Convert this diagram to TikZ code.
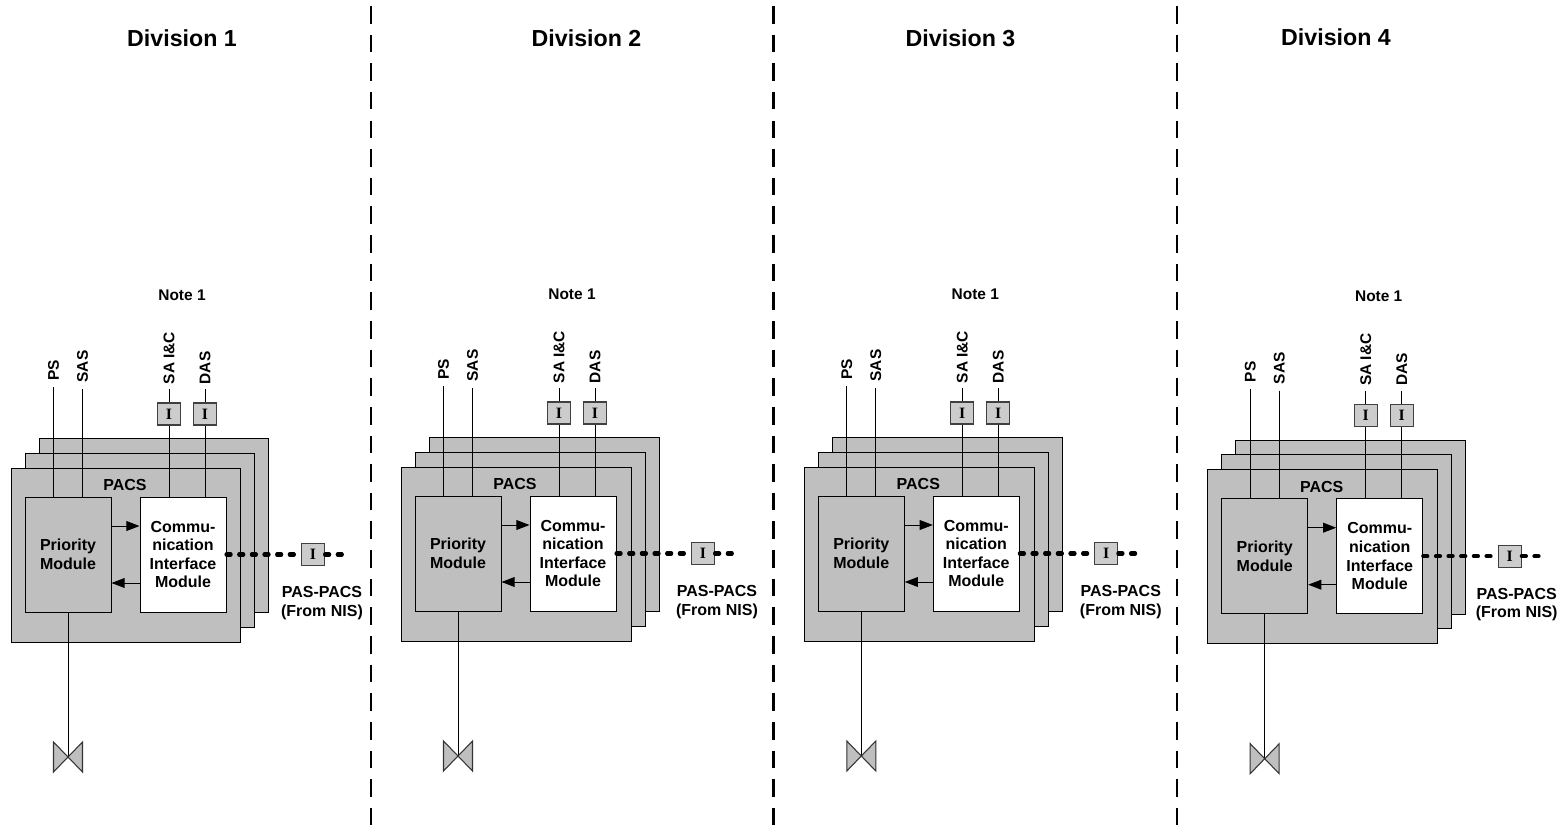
\documentclass[tikz,border=0pt]{standalone}
\usepackage{fontspec}
\setmainfont{Liberation Sans}
\newfontfamily\boxfont{Liberation Serif}
\usetikzlibrary{arrows.meta}

\begin{document}
\begin{tikzpicture}[
        x=0.02cm, y=-0.02cm,
        plate/.style={
        rectangle, draw=black, line width=0.55pt,
        inner sep=0pt, minimum width=4.6cm, minimum height=3.48cm,
        fill=plategray},
        module/.style={
        rectangle, draw=black, line width=0.55pt,
        inner sep=0pt, minimum width=1.72cm, minimum height=2.3cm,
        align=center, font=\fontsize{9.1}{10.6}\selectfont\bfseries},
        isobox/.style={
        rectangle, draw=black!75, line width=0.6pt,
        inner sep=0pt, minimum width=0.46cm, minimum height=0.44cm,
        fill=boxgray, font=\fontsize{9}{10}\selectfont\boxfont\bfseries},
        txt/.style={
        inner sep=0pt, align=center,
        font=\fontsize{9.1}{10.4}\selectfont\bfseries},
        signal/.style={
        rotate=90, anchor=west, inner sep=2.5pt,
        font=\fontsize{8.8}{10}\selectfont\bfseries},
        wire/.style={draw=black, line width=0.55pt},
        flow/.style={wire, -{Triangle[length=7.5pt,width=5.6pt]}},
        datalink/.style={draw=black, line width=2.3pt, line cap=round,
        dash pattern=on 2.4pt off 4.8pt},
        divider/.style={draw=black, line width=1.6pt,
        dash pattern=on 10pt off 6.3pt},
        ]
        \definecolor{plategray}{HTML}{BFBFBF}
        \definecolor{boxgray}{HTML}{CCCCCC}

        \useasboundingbox (0,0) rectangle (1568,831);

        % division separators
        \foreach \i/\xx in {1/371, 2/773.5, 3/1177}{
            \coordinate (top\i) at (\xx,6);
            \coordinate (bot\i) at (\xx,831);
            \draw [divider] (top\i) -- (bot\i);
        }

        % one group per division: number, offset, title x and y, text x
        \foreach \d/\dx/\dy/\tx/\ty/\px in {
            1/0/0/182/38/322,
            2/390/-1/196.5/39/327,
            3/793.3/-1/167.2/39/327.5,
            4/1196.7/1.7/139.3/36/320}{
        \begin{scope}[shift={(\dx,\dy)}]
            \node (title\d) [txt, font=\fontsize{13.2}{15}\selectfont\bfseries] at (\tx,\ty){Division \d};
            \node (note\d) [txt, font=\fontsize{8.8}{10}\selectfont\bfseries] at (182,295){Note 1};

            \node (back\d) [plate] at (154,525.5){};
            \node (mid\d) [plate] at (140,540){};
            \node (front\d) [plate] at (126,555){};
            \node (pacs\d) [txt] at (125,485){PACS};

            \node (prio\d) [module, fill=plategray] at (68,554.5){Priority\\Module};
            \node (comm\d) [module, fill=white] at (183,554.5){Commu-\\nication\\Interface\\Module};

            \node (ps\d) [signal, inner sep=3.6pt] at (53.5,387){PS};
            \node (sas\d) [signal, inner sep=3.6pt] at (82.5,389){SAS};
            \node (sa\d) [signal] at (169,389){SA I\&C};
            \node (das\d) [signal] at (205,389){DAS};

            \node (isa\d) [isobox] at (169,414){I};
            \node (ida\d) [isobox] at (205,414){I};
            \node (ipas\d) [isobox] at (313,554.5){I};
            \coordinate (end\d) at (346,554.5);

            \node (link\d) [txt] at (\px,603){PAS-PACS\\(From NIS)};
            \coordinate (valve\d) at (68,757);

            \draw [wire] (ps\d.west) -- (ps\d.west |- prio\d.north);
            \draw [wire] (sas\d.west) -- (sas\d.west |- prio\d.north);
            \draw [wire] (sa\d.west) -- (isa\d) -- (isa\d |- comm\d.north);
            \draw [wire] (das\d.west) -- (ida\d) -- (ida\d |- comm\d.north);
            \node [isobox] at (isa\d){I};
            \node [isobox] at (ida\d){I};

            \draw [flow] ([yshift=0.57cm]prio\d.east) -- ([yshift=0.57cm]comm\d.west);
            \draw [flow] ([yshift=-0.57cm]comm\d.west) -- ([yshift=-0.57cm]prio\d.east);
            \draw [datalink] (comm\d.east) -- (ipas\d.west);
            \draw [datalink] (ipas\d.east) -- (end\d);

            \draw [wire] (prio\d.south) -- (valve\d);
            \draw [draw=black!80, line width=0.6pt, fill=plategray, line join=miter] (valve\d) -- ++(-14.5,-15) -- ++(0,30) -- ++(29,-30) -- ++(0,30) -- cycle;
        \end{scope}
        }
    \end{tikzpicture}
\end{document}
